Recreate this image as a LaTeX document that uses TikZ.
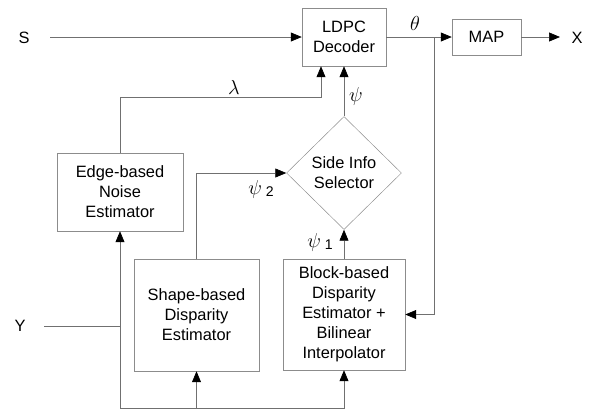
\documentclass[tikz,border=0pt]{standalone}
\usepackage{fontspec}
\setmainfont{Liberation Sans}
\usetikzlibrary{positioning,shapes.geometric,arrows.meta}

\begin{document}
\begin{tikzpicture}[x=0.03cm, y=-0.03cm, font=\fontsize{14}{17}\selectfont]
			% Define colors
			\definecolor{linegray}{HTML}{707070}   % connector lines
			\definecolor{boxgray}{HTML}{8C8C8C}    % block outlines
			
			\tikzset{
				blockbox/.style={draw=boxgray, align=center, inner sep=2pt},
				conn/.style={draw=linegray, line width=0.6pt},
				arr/.style={conn, -{Triangle[length=0.33cm, width=0.27cm, color=black]}},
				greek/.style={font=\fontsize{19}{20}\selectfont}
			}
			
			\useasboundingbox (0,0) rectangle (597,410);
			
			% Blocks
			\node[blockbox, minimum width=2.52cm, minimum height=1.74cm] (ldpc) at (344,37) {LDPC\\Decoder};
			\node[blockbox, minimum width=2.07cm, minimum height=1.08cm] (map) at (486.5,37) {MAP};
			\node[blockbox, diamond, aspect=1, minimum width=3.45cm, minimum height=3.39cm, inner sep=0pt] (sel) at (344,173) {Side Info\\Selector};
			\node[blockbox, minimum width=3.78cm, minimum height=2.34cm] (edge) at (120,192) {Edge-based\\Noise\\Estimator};
			\node[blockbox, minimum width=3.75cm, minimum height=3.36cm] (shape) at (196.5,315) {Shape-based\\Disparity\\Estimator};
			\node[blockbox, minimum width=3.66cm, minimum height=3.33cm] (block) at (344,314.5) {Block-based\\Disparity\\Estimator +\\Bilinear\\Interpolator};
			
			% Inputs and output
			\node (sl) at (24,38) {S};
			\node (yl) at (20,326) {Y};
			\node (xl) at (577,38) {X};
			\coordinate (s0) at (50,37);
			\coordinate (y0) at (44,326);
			\coordinate (x1) at (560,37);
			\coordinate (br) at (434,37);
			\coordinate (lam) at (321,97);
			\coordinate (yj) at (120,326);
			\coordinate (bot) at (120,408);
			
			% Connectors
			\draw[arr] (s0) -- (ldpc.west);
			\draw[arr] (ldpc.east) -- (map.west);
			\draw[arr] (map.east) -- (x1);
			\draw[arr] (br) |- (block.east);
			\draw[arr] (edge.north) |- (lam) -- (lam |- ldpc.south);
			\draw[arr] (sel.north) -- (ldpc.south);
			\draw[arr] (shape.north) |- (sel.west);
			\draw[arr] (block.north) -- (sel.south);
			\draw[conn] (y0) -- (yj);
			\draw[arr] (yj) -- (edge.south);
			\draw[conn] (yj) -- (bot);
			\draw[arr] (bot) -| (block.south);
			\draw[arr] (bot -| shape.south) -- (shape.south);
			
			% Signal labels
			\node[greek] (theta) at (415,23) {$\theta$};
			\node[greek] (lambda) at (234,87) {$\lambda$};
			\node[greek] (psi) at (356,96) {$\psi$};
			\node[greek] (psi2) at (261,189) {$\psi$\,\raisebox{-2pt}{\fontsize{12}{13}\selectfont 2}};
			\node[greek] (psi1) at (320,242) {$\psi$\,\raisebox{-2pt}{\fontsize{12}{13}\selectfont 1}};
		\end{tikzpicture}
\end{document}
